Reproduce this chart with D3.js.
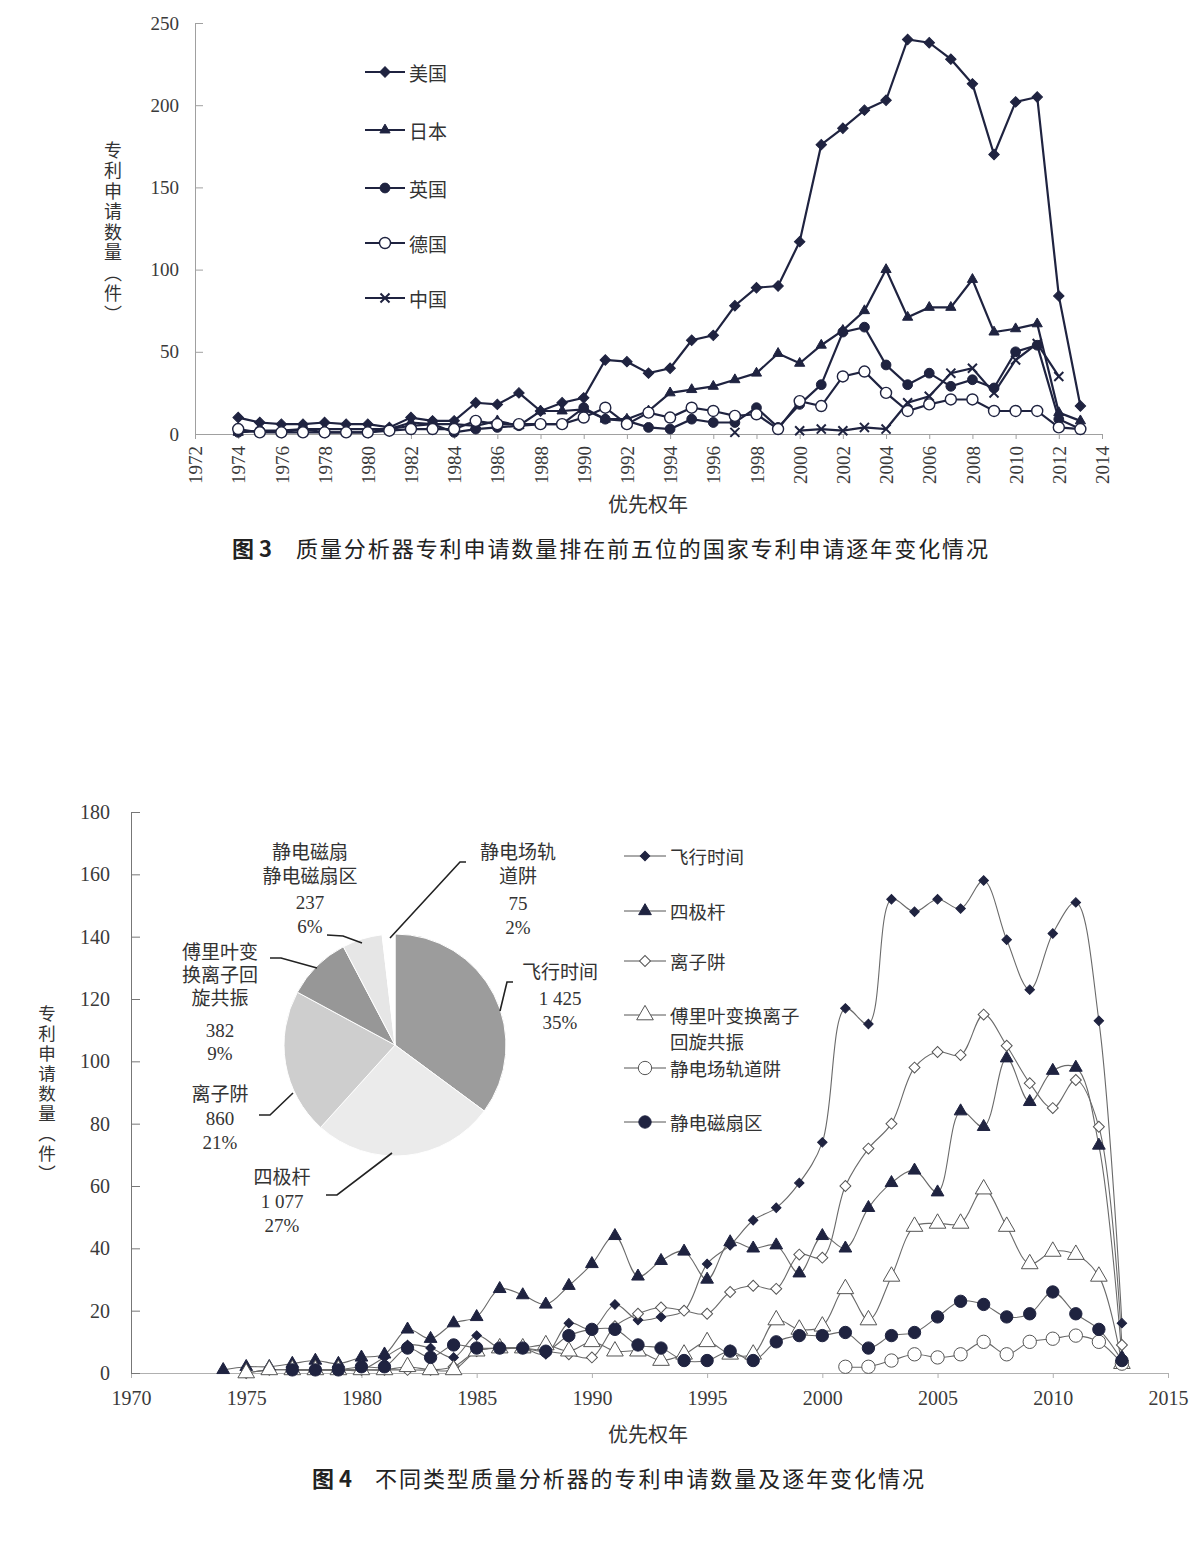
<!DOCTYPE html>
<html><head><meta charset="utf-8">
<script src="https://cdn.jsdelivr.net/npm/d3@7"></script>
<style>body{margin:0;background:#fff}svg{display:block}</style>
</head><body>
<svg id="c" width="1202" height="1554"></svg>
<script>
// ================= DATA: figure 3 =================
const years1 = d3.range(1974, 2014);
const usVals = [10,7,6,6,7,6,6,4,10,8,8,19,18,25,14,19,22,45,44,37,40,57,60,78,89,90,117,176,186,197,203,240,238,228,213,170,202,205,84,17];
const jpVals = [1,2,2,3,3,3,3,3,7,6,6,5,8,5,14,14,15,9,9,14,25,27,29,33,37,49,43,54,63,75,100,71,77,77,94,62,64,67,13,8];
const ukVals = [1,2,1,3,1,1,1,3,5,6,1,3,4,5,6,6,16,9,8,4,3,9,7,7,16,4,18,30,62,65,42,30,37,29,33,28,50,54,9,3];
const deVals = [3,1,1,1,1,1,1,2,3,3,3,8,6,6,6,6,10,16,6,13,10,16,14,11,12,3,20,17,35,38,25,14,18,21,21,14,14,14,4,3];
const cnVals = [null,null,null,null,null,null,null,null,null,null,null,null,null,null,null,null,null,null,null,null,null,null,null,1,null,null,2,3,2,4,3,19,23,37,40,25,45,55,35,null];
const names1 = ["美国","日本","英国","德国","中国"];
const yTicks1 = [0,50,100,150,200,250];
const xTicks1 = d3.range(1972, 2015, 2);

// ================= DATA: figure 4 =================
const years2 = d3.range(1974, 2014);
const tofVals  = [null,null,null,1,1,1,1,5,9,8,5,12,8,8,6,16,14,22,17,18,20,35,41,49,53,61,74,117,112,152,148,152,149,158,139,123,141,151,113,16];
const quadVals = [1,2,2,3,4,3,5,6,14,11,16,18,27,25,22,28,35,44,31,36,39,30,42,40,41,32,44,40,53,61,65,58,84,79,101,87,97,98,73,5];
const trapVals = [null,0,1,1,1,1,1,1,1,1,2,7,8,8,7,6,5,15,19,21,20,19,26,28,27,38,37,60,72,80,98,103,102,115,105,93,85,94,79,9];
const ftVals   = [null,0,1,1,1,1,1,1,2,1,1,7,8,8,9,7,10,7,7,4,6,10,6,6,17,14,15,27,17,31,47,48,48,59,47,35,39,38,31,3];
const orbiVals = [null,null,null,null,null,null,null,null,null,null,null,null,null,null,null,null,null,null,null,null,null,null,null,null,null,null,null,2,2,4,6,5,6,10,6,10,11,12,10,3];
const sectVals = [null,null,null,1,1,1,2,2,8,5,9,8,8,8,7,12,14,14,9,8,4,4,7,4,10,12,12,13,8,12,13,18,23,22,18,19,26,19,14,4];
const names2 = ["飞行时间","四极杆","离子阱","傅里叶变换离子回旋共振","静电场轨道阱","静电磁扇区"];
const yTicks2 = d3.range(0, 181, 20);
const xTicks2 = d3.range(1970, 2016, 5);

// pie (totals)
const pieNames = ["飞行时间","四极杆","离子阱","傅里叶变换离子回旋共振","静电磁扇区","静电场轨道阱"];
const pieValues = [1425,1077,860,382,237,75];

// ================= STYLE / LAYOUT =================
const SERIF = "'Liberation Serif','Noto Sans CJK SC',serif";
const CJK = "'Noto Sans CJK SC','Liberation Serif',sans-serif";
const NAVY = "#1f2340";
const TXT = "#333";

const svg = d3.select("#c");
svg.append("rect").attr("width",1202).attr("height",1554).attr("fill","#fff");

function marker(g, type, cx, cy, o) {
  const col = o.color || NAVY;
  let sym, rot = 0, fill = col, stroke = col, sw = 1;
  switch (type) {
    case "diamond": sym = d3.symbol(d3.symbolSquare, o.size||50); rot = 45; break;
    case "odiamond": sym = d3.symbol(d3.symbolSquare, o.size||50); rot = 45; fill = "#fff"; break;
    case "triangle": sym = d3.symbol(d3.symbolTriangle, o.size||50); break;
    case "otriangle": sym = d3.symbol(d3.symbolTriangle, o.size||100); fill = "#fff"; break;
    case "circle": sym = d3.symbol(d3.symbolCircle, o.size||80); break;
    case "ocircle": sym = d3.symbol(d3.symbolCircle, o.size||90); fill = "#fff"; sw = 1.4; break;
    case "x": sym = d3.symbol(d3.symbolX, o.size||50); fill = "none"; sw = 2; break;
  }
  g.append("path").attr("d", sym()).attr("transform", `translate(${cx},${cy}) rotate(${rot})`)
    .attr("fill", fill).attr("stroke", o.stroke || stroke).attr("stroke-width", o.sw || sw);
}

function verticalTitle(x, yTop, size, spacing) {
  svg.append("text").attr("x", x).attr("y", yTop)
    .style("writing-mode", "vertical-rl").style("text-orientation", "upright")
    .attr("font-family", CJK).attr("font-size", size).attr("letter-spacing", spacing)
    .attr("fill", TXT).text("专利申请数量（件）");
}

function styleAxis(a, col, fs) {
  a.select(".domain").attr("stroke", col);
  a.selectAll(".tick line").attr("stroke", col);
  a.selectAll("text").attr("font-family", SERIF).attr("font-size", fs).attr("fill", "#3a3a3a");
}

// ================= FIGURE 3 =================
const x1 = d3.scaleLinear().domain([1972, 2014]).range([195, 1102]);
const y1 = d3.scaleLinear().domain([0, 250]).range([434, 23]);
const g1 = svg.append("g");

const xa1 = g1.append("g").attr("transform", `translate(0,${y1(0)})`)
  .call(d3.axisBottom(x1).tickValues(xTicks1).tickFormat(d3.format("d")).tickSizeInner(5).tickSizeOuter(0));
styleAxis(xa1, "#a0a0a0", 19);
xa1.selectAll("text").attr("transform","rotate(-90)").attr("x",-12).attr("y",0).attr("dy","0.35em").attr("text-anchor","end");

const ya1 = g1.append("g").attr("transform", `translate(${x1(1972)},0)`)
  .call(d3.axisLeft(y1).tickValues(yTicks1).tickSizeInner(-8).tickSizeOuter(0).tickPadding(16));
styleAxis(ya1, "#a0a0a0", 19);

const series1 = [
  {vals: usVals, m: "diamond", size: 55},
  {vals: jpVals, m: "triangle", size: 45},
  {vals: ukVals, m: "circle", size: 75},
  {vals: deVals, m: "ocircle", size: 95},
  {vals: cnVals, m: "x", size: 55}
];
const line1 = d3.line().defined(d => d[1] != null).x(d => x1(d[0])).y(d => y1(d[1]));
series1.forEach(s => {
  const pts = years1.map((yr, i) => [yr, s.vals[i]]);
  g1.append("path").attr("d", line1(pts)).attr("fill","none").attr("stroke", NAVY).attr("stroke-width", 2.2);
});
series1.forEach(s => {
  years1.forEach((yr, i) => {
    if (s.vals[i] != null) marker(g1, s.m, x1(yr), y1(s.vals[i]), {size: s.size});
  });
});

// legend fig 3
const legY1 = [72, 130, 188, 243, 298];
series1.forEach((s, i) => {
  g1.append("line").attr("x1",365).attr("x2",405).attr("y1",legY1[i]).attr("y2",legY1[i]).attr("stroke",NAVY).attr("stroke-width",2);
  marker(g1, s.m, 385, legY1[i], {size: s.size});
  g1.append("text").attr("x",409).attr("y",legY1[i]).attr("dominant-baseline","central")
    .attr("font-family",CJK).attr("font-size",19).attr("fill",TXT).text(names1[i]);
});

verticalTitle(113, 141, 18, 2.5);
svg.append("text").attr("x",648).attr("y",503).attr("text-anchor","middle").attr("dominant-baseline","central")
  .attr("font-family",CJK).attr("font-size",20).attr("fill",TXT).text("优先权年");

svg.append("text").attr("x",232).attr("y",547).attr("dominant-baseline","central")
  .attr("font-family",CJK).attr("font-size",22).attr("font-weight","bold").attr("fill","#222").text("图 3");
svg.append("text").attr("x",296).attr("y",547).attr("dominant-baseline","central")
  .attr("font-family",CJK).attr("font-size",22).attr("fill","#222")
  .attr("textLength",692).attr("lengthAdjust","spacing").text("质量分析器专利申请数量排在前五位的国家专利申请逐年变化情况");

// ================= FIGURE 4 =================
const x2 = d3.scaleLinear().domain([1970, 2015]).range([131, 1168]);
const y2 = d3.scaleLinear().domain([0, 180]).range([1373, 812]);
const g2 = svg.append("g");

const xa2 = g2.append("g").attr("transform", `translate(0,${y2(0)})`)
  .call(d3.axisBottom(x2).tickValues(xTicks2).tickFormat(d3.format("d")).tickSizeInner(5).tickSizeOuter(0).tickPadding(13));
styleAxis(xa2, "#b0b0b0", 20);
const ya2 = g2.append("g").attr("transform", `translate(${x2(1970)},0)`)
  .call(d3.axisLeft(y2).tickValues(yTicks2).tickSizeInner(-9).tickSizeOuter(0).tickPadding(21));
styleAxis(ya2, "#777", 20);

const series2 = [
  {vals: tofVals,  m: "diamond",   size: 45},
  {vals: quadVals, m: "triangle",  size: 70},
  {vals: trapVals, m: "odiamond",  size: 60},
  {vals: ftVals,   m: "otriangle", size: 120},
  {vals: orbiVals, m: "ocircle",   size: 140},
  {vals: sectVals, m: "circle",    size: 120}
];
const line2 = d3.line().defined(d => d[1] != null).x(d => x2(d[0])).y(d => y2(d[1])).curve(d3.curveCatmullRom.alpha(0.5));
series2.forEach(s => {
  const pts = years2.map((yr, i) => [yr, s.vals[i]]);
  g2.append("path").attr("d", line2(pts)).attr("fill","none").attr("stroke","#6a6a6a").attr("stroke-width",1.1);
});
series2.forEach(s => {
  const open = s.m.startsWith("o");
  years2.forEach((yr, i) => {
    if (s.vals[i] != null) marker(g2, s.m, x2(yr), y2(s.vals[i]), {size: s.size, stroke: open ? "#555" : NAVY, sw: 1});
  });
});

// legend fig 4
const legY2 = [856, 911, 961, 1015, 1068, 1122];
const legLines2 = [["飞行时间"],["四极杆"],["离子阱"],["傅里叶变换离子","回旋共振"],["静电场轨道阱"],["静电磁扇区"]];
series2.forEach((s, i) => {
  const open = s.m.startsWith("o");
  g2.append("line").attr("x1",624).attr("x2",666).attr("y1",legY2[i]).attr("y2",legY2[i]).attr("stroke","#555").attr("stroke-width",1);
  marker(g2, s.m, 645, legY2[i], {size: s.size, stroke: open ? "#555" : NAVY, sw: 1});
  legLines2[i].forEach((ln, j) => {
    g2.append("text").attr("x",670).attr("y",legY2[i] + j*26).attr("dominant-baseline","central")
      .attr("font-family",CJK).attr("font-size",18.5).attr("fill",TXT).text(ln);
  });
});

// pie
const pieColors = ["#9c9c9c","#ebebeb","#cecece","#979797","#e6e6e6","#ffffff"];
const pieData = d3.pie().sort(null).value(d => d)(pieValues);
const arc = d3.arc().innerRadius(0).outerRadius(111);
const gp = svg.append("g").attr("transform","translate(395,1045)");
gp.selectAll("path").data(pieData).join("path").attr("d", arc)
  .attr("fill", (d, i) => pieColors[i]).attr("stroke","#fff").attr("stroke-width",1);

const total = d3.sum(pieValues);
const fmtN = v => v >= 1000 ? d3.format(",")(v).replace(",", " ") : String(v);
const fmtP = v => Math.round(v / total * 100) + "%";
const pieLabelLayout = [
  {name:["飞行时间"], x:560, y:[972,998,1022], leader:[[513,982],[507,982],[500,1011]]},
  {name:["四极杆"], x:282, y:[1177,1201,1225], leader:[[326,1195],[337,1195],[392,1153]]},
  {name:["离子阱"], x:220, y:[1094,1118,1142], leader:[[259,1115],[270,1115],[293,1093]]},
  {name:["傅里叶变","换离子回","旋共振"], x:220, y:[952,975,998,1030,1053], leader:[[270,958],[281,958],[317,968]]},
  {name:["静电磁扇","静电磁扇区"], x:310, y:[852,876,902,926], leader:[[327,935],[343,936],[362,943]]},
  {name:["静电场轨","道阱"], x:518, y:[852,876,903,927], leader:[[466,862],[460,862],[390,938]]}
];
pieLabelLayout.forEach((L, i) => {
  const lines = L.name.concat([fmtN(pieValues[i]), fmtP(pieValues[i])]);
  lines.forEach((ln, j) => {
    svg.append("text").attr("x", L.x).attr("y", L.y[j]).attr("text-anchor","middle").attr("dominant-baseline","central")
      .attr("font-family", SERIF).attr("font-size", 19).attr("fill", TXT).text(ln);
  });
  svg.append("path").attr("d", d3.line()(L.leader)).attr("fill","none").attr("stroke","#222").attr("stroke-width",1.6);
});

verticalTitle(47, 1005, 17.5, 2.5);
svg.append("text").attr("x",648).attr("y",1433).attr("text-anchor","middle").attr("dominant-baseline","central")
  .attr("font-family",CJK).attr("font-size",20).attr("fill",TXT).text("优先权年");

svg.append("text").attr("x",312).attr("y",1477).attr("dominant-baseline","central")
  .attr("font-family",CJK).attr("font-size",22).attr("font-weight","bold").attr("fill","#222").text("图 4");
svg.append("text").attr("x",375).attr("y",1477).attr("dominant-baseline","central")
  .attr("font-family",CJK).attr("font-size",22).attr("fill","#222")
  .attr("textLength",549).attr("lengthAdjust","spacing").text("不同类型质量分析器的专利申请数量及逐年变化情况");
</script>
</body></html>
